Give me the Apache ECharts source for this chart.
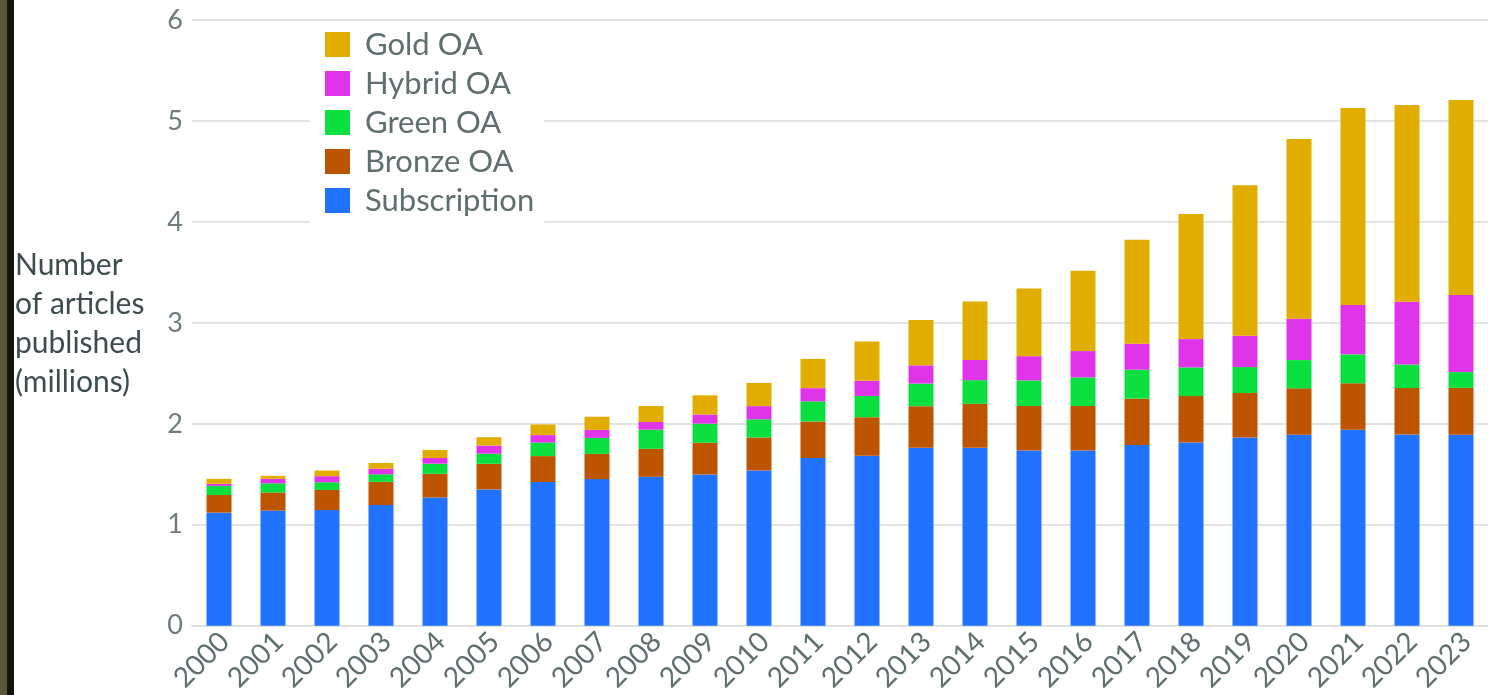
<!DOCTYPE html>
<html>
<head>
<meta charset="utf-8">
<script src="https://cdn.jsdelivr.net/npm/echarts@6/dist/echarts.min.js"></script>
<style>
html,body{margin:0;padding:0;background:#fff;}
#chart{width:1488px;height:695px;}
</style>
</head>
<body>
<div id="chart"></div>
<script>
const years = ['2000','2001','2002','2003','2004','2005','2006','2007','2008','2009','2010','2011','2012','2013','2014','2015','2016','2017','2018','2019','2020','2021','2022','2023'];
const subscription = [1.12,1.14,1.145,1.195,1.27,1.35,1.423,1.452,1.475,1.498,1.538,1.66,1.683,1.762,1.762,1.736,1.736,1.789,1.815,1.865,1.891,1.941,1.894,1.891];
const bronzeOA = [0.175,0.18,0.20,0.23,0.235,0.254,0.257,0.25,0.277,0.314,0.327,0.363,0.383,0.413,0.436,0.44,0.44,0.46,0.46,0.44,0.46,0.46,0.46,0.465];
const greenOA = [0.09,0.09,0.076,0.075,0.10,0.10,0.135,0.158,0.19,0.19,0.18,0.20,0.21,0.224,0.234,0.254,0.284,0.287,0.284,0.257,0.28,0.287,0.234,0.156];
const hybridOA = [0.02,0.045,0.06,0.055,0.056,0.08,0.073,0.08,0.076,0.09,0.13,0.13,0.15,0.18,0.20,0.24,0.26,0.257,0.28,0.31,0.41,0.49,0.62,0.765];
const goldOA = [0.05,0.03,0.056,0.057,0.08,0.083,0.105,0.13,0.158,0.19,0.23,0.29,0.39,0.45,0.58,0.67,0.795,1.03,1.24,1.49,1.78,1.95,1.95,1.93];
const yTicks = [0,1,2,3,4,5,6];

const FONT = 'Lato';
const chart = echarts.init(document.getElementById('chart'), null, {renderer:'canvas'});
const mk = (name, data, color) => ({
  name, type:'bar', stack:'total', data, barWidth:25,
  itemStyle:{color}, emphasis:{disabled:true}
});
chart.setOption({
  animation:false,
  backgroundColor:'#ffffff',
  textStyle:{fontFamily:FONT},
  grid:{left:192, right:-9, top:20, bottom:68, containLabel:false},
  xAxis:{
    type:'category', data:years, boundaryGap:true,
    axisLine:{show:true, lineStyle:{color:'#dde1e1', width:2}},
    axisTick:{show:false},
    axisLabel:{rotate:45, fontSize:28, color:'#5f6e6e', margin:17, padding:[0,-8,0,0], fontFamily:FONT, interval:0}
  },
  yAxis:{
    type:'value', min:yTicks[0], max:yTicks[yTicks.length-1], interval:1,
    axisLine:{show:false}, axisTick:{show:false},
    axisLabel:{fontSize:27, color:'#6e7c7c', margin:9, fontFamily:FONT},
    splitLine:{lineStyle:{color:'#e3e3e3', width:2}}
  },
  legend:{
    orient:'vertical', left:310, top:21,
    data:['Gold OA','Hybrid OA','Green OA','Bronze OA','Subscription'],
    itemWidth:25, itemHeight:25, itemGap:8,
    icon:'rect',
    backgroundColor:'#ffffff',
    padding:[8,10,8,15],
    textStyle:{fontSize:31, color:'#5f6e6e', fontFamily:FONT, lineHeight:31, padding:[0,0,0,10]},
    selectedMode:false
  },
  graphic:[
    {type:'rect', left:0, top:0, shape:{width:7, height:695}, style:{fill:'#5d5537'}, z:100},
    {type:'rect', left:7, top:0, shape:{width:7, height:695}, style:{fill:'#131313'}, z:100},
    {type:'text', left:15, top:246, style:{text:'Number\nof articles\npublished\n(millions)', fontSize:30, lineHeight:39, fill:'#3d4d4d', fontFamily:FONT}}
  ],
  series:[
    mk('Subscription', subscription, '#2172ff'),
    mk('Bronze OA', bronzeOA, '#bd5500'),
    mk('Green OA', greenOA, '#0be040'),
    mk('Hybrid OA', hybridOA, '#e034e8'),
    mk('Gold OA', goldOA, '#e0ad00')
  ]
});
</script>
</body>
</html>
